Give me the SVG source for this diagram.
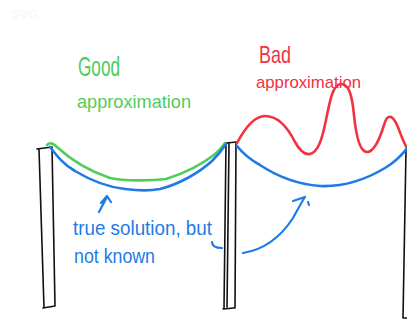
<svg xmlns="http://www.w3.org/2000/svg" width="407" height="321" viewBox="0 0 407 321">
  <style>
    .post { fill: none; stroke: #111; stroke-width: 1.6; stroke-linecap: round; stroke-linejoin: round; }
    .curve { fill: none; stroke-width: 2.6; stroke-linecap: round; stroke-linejoin: round; }
    .green { stroke: #52cc5c; }
    .red { stroke: #f2323f; }
    .blue { stroke: #1f7ae6; }
    .txt { font-family: "Liberation Sans", Arial, sans-serif; }
    .tg { fill: #52cc5c; }
    .tr { fill: #f2323f; }
    .tb { fill: #1f7ae6; }
    .conn { fill: none; stroke: #1f7ae6; stroke-width: 2.2; stroke-linecap: round; stroke-linejoin: round; }
  </style>
  <rect width="407" height="321" fill="#ffffff"/>
  <text x="11" y="19" class="txt" font-size="13" font-weight="bold" fill="#f8f8f8">SVG</text>

  <g id="post-left">
    <path class="post" d="M37,149 L52,147 M39,149 L44,308 M52,147 L55,306 M43,308 L55,306"/>
  </g>
  <g id="post-middle">
    <path class="post" d="M226,143 L237,142 M226,143 L224,309 M229,144 L227,307 M236,142 L235,308 M223,309 L234,308"/>
  </g>
  <g id="post-right">
    <path class="post" d="M406,150 L403,318 L407,318"/>
  </g>

  <g id="good-approximation-curve">
    <path class="curve green" d="M47,145 C50,142 53,143 57,147 C70,159 86,170 110,178 C125,181 150,181 166,179 C185,173 204,163 215,154 C220,150 223,146 225,143"/>
  </g>
  <g id="true-solution-left">
    <path class="curve blue" d="M50,147 C57,156 64,165 75,171 C90,180 106,187 125,189 C140,191 150,191 160,189 C180,184 200,172 212,161 C218,155 222,150 226,144"/>
  </g>
  <g id="bad-approximation-curve">
    <path class="curve red" d="M237,143 C245,128 255,116 265,116 C279,116 288,128 295,142 C300,151 305,155 310,154 C318,152 322,140 326,120 C330,100 333,84 341,84 C349,84 352,95 354,115 C356,135 360,152 367,152 C374,152 380,138 384,125 C386,118 388,116 391,117 C396,119 398,128 401,135 C403,140 405,145 407,148"/>
  </g>
  <g id="true-solution-right">
    <path class="curve blue" d="M237,146 C244,155 251,160 260,165 C275,175 295,184 320,186 C345,187 365,180 385,168 C395,162 402,155 408,147"/>
  </g>

  <g id="label-good">
    <text class="txt tg" x="78" y="76" font-size="28" textLength="42" lengthAdjust="spacingAndGlyphs">Good</text>
    <text class="txt tg" x="77" y="108" font-size="19" textLength="114" lengthAdjust="spacingAndGlyphs">approximation</text>
  </g>
  <g id="label-bad">
    <text class="txt tr" x="259" y="63" font-size="24" textLength="32" lengthAdjust="spacingAndGlyphs">Bad</text>
    <text class="txt tr" x="256" y="88" font-size="17" textLength="105" lengthAdjust="spacingAndGlyphs">approximation</text>
  </g>
  <g id="label-true-solution">
    <text class="txt tb" x="73" y="235" font-size="20" textLength="139" lengthAdjust="spacingAndGlyphs">true solution, but</text>
    <text class="txt tb" x="74" y="263" font-size="20" textLength="81" lengthAdjust="spacingAndGlyphs">not known</text>
  </g>

  <g id="connectors">
    <path class="conn" d="M99,212 L107,197 M101,203 L107,196 L111,202"/>
    <path class="conn" d="M212,242 C212,246 215,248 222,248"/>
    <path class="conn" d="M243,253 C262,250 280,238 293,218 C297,211 301,203 305,197 M293,201 L305,197 M308,202 L309,205"/>
  </g>
</svg>
